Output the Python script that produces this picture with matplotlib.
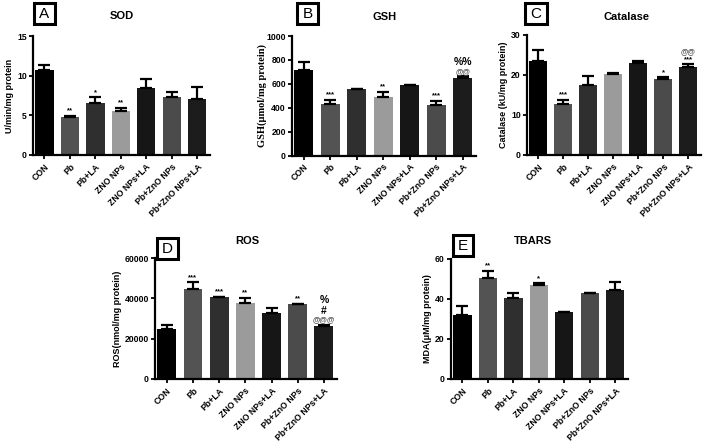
import matplotlib
matplotlib.use("Agg")
import matplotlib.pyplot as plt
from matplotlib.patches import Rectangle

W, H = 708, 443

groups = ["CON", "Pb", "Pb+LA", "ZNO NPs", "ZNO NPs+LA", "Pb+ZnO NPs", "Pb+ZnO NPs+LA"]
bar_colors = ["#000000", "#535353", "#2f2f2f", "#9b9b9b", "#161616", "#4b4b4b", "#1c1c1c"]

sod_mean = [10.7, 4.83, 6.5, 5.55, 8.5, 7.35, 7.0]
sod_err = [0.6, 0.13, 0.77, 0.42, 1.08, 0.59, 1.6]
sod_marks = [[], ["**"], ["*"], ["**"], [], [], []]

gsh_mean = [714, 428, 553, 486, 589, 419, 650]
gsh_err = [69, 36, 5, 47, 5, 39, 14]
gsh_marks = [[], ["***"], [], ["**"], [], ["***"], ["@@", "%%"]]

cat_mean = [23.6, 12.75, 17.5, 20.2, 23.1, 19.0, 21.9]
cat_err = [2.65, 1.0, 2.25, 0.4, 0.4, 0.4, 0.8]
cat_marks = [[], ["***"], [], [], [], ["*"], ["***", "@@"]]

ros_mean = [24700, 44500, 40500, 37800, 32500, 37000, 26300]
ros_err = [2000, 3500, 300, 2500, 2500, 300, 700]
ros_marks = [[], ["***"], ["***"], ["**"], [], ["**"], ["@@@", "#", "%"]]

mda_mean = [32.0, 50.7, 40.3, 47.0, 33.3, 42.8, 44.5]
mda_err = [4.7, 3.3, 2.9, 0.8, 0.4, 0.4, 4.2]
mda_marks = [[], ["**"], [], ["*"], [], [], []]

SANS = ["Liberation Sans", "DejaVu Sans"]
SERIF = ["Liberation Serif", "DejaVu Serif"]

fig = plt.figure(figsize=(W / 100, H / 100), dpi=100)


def rect(l, r, t, b):
    return [l / W, 1 - b / H, (r - l) / W, (b - t) / H]


def panel(box, mean, err, marks, ylim, yticks, ylabel, title, letter,
          letter_box, title_xy, ylabel_x, ylabel_font=SANS, ylabel_size=6.5):
    ax = fig.add_axes(rect(*box))
    x = list(range(len(groups)))
    ax.bar(x, mean, width=0.72, color=bar_colors, edgecolor="none", zorder=2)
    ax.errorbar(x, mean, yerr=[[0] * len(mean), err], fmt="none", ecolor="black",
                elinewidth=1.6, capsize=4, capthick=1.6, zorder=3)
    ax.set_xlim(-0.45, 6.5)
    ax.set_ylim(*ylim)
    ax.set_yticks(yticks)
    ax.set_yticklabels([str(t) for t in yticks], fontsize=6.2, fontweight="heavy",
                       family=SANS)
    ax.set_xticks(x)
    ax.set_xticklabels(groups, rotation=45, ha="right", rotation_mode="anchor",
                       fontsize=6.3, fontweight="heavy", family=SANS)
    for s in ["top", "right"]:
        ax.spines[s].set_visible(False)
    for s in ["left", "bottom"]:
        ax.spines[s].set_linewidth(1.6)
    ax.tick_params(axis="both", length=3, width=1.3, pad=1.5, colors="black")
    ax.tick_params(axis="x", pad=2)
    ax.patch.set_visible(False)
    # significance marks
    for i, ms in enumerate(marks):
        top = mean[i] + err[i]
        off = 1.0
        for m in ms:
            big = m in ("#", "%", "%%")
            fs = 7.5 if big else 5.5
            col = "#555555" if m.startswith("@") else "black"
            ax.annotate(m, (i, top), xytext=(0, off), textcoords="offset points",
                        ha="center", va="bottom", fontsize=fs, fontweight="bold",
                        color=col, family=SANS)
            off += 7.5 if big else 5.5
    # y label
    fig.text(ylabel_x / W, 1 - ((box[2] + box[3]) / 2) / H, ylabel, rotation=90,
             ha="center", va="center", fontsize=ylabel_size, fontweight="bold",
             family=ylabel_font)
    # title
    fig.text(title_xy[0] / W, 1 - title_xy[1] / H, title, ha="center", va="center",
             fontsize=8, fontweight="bold", family=SANS)
    # letter box
    l, t, r, b = letter_box
    fig.patches.append(Rectangle((l / W, 1 - b / H), (r - l) / W, (b - t) / H,
                                 transform=fig.transFigure, fill=False,
                                 edgecolor="black", linewidth=2.2))
    fig.text((l + r) / 2 / W, 1 - ((t + b) / 2 + 0.5) / H, letter, ha="center",
             va="center", fontsize=11, family=SANS)
    return ax


panel((33, 210, 36, 155), sod_mean, sod_err, sod_marks, (0, 15), [0, 5, 10, 15],
      "U/min/mg protein", "SOD", "A", (34, 3, 55, 24), (122, 16), 10)
panel((292, 476, 36, 155.5), gsh_mean, gsh_err, gsh_marks, (0, 1000),
      [0, 200, 400, 600, 800, 1000], "GSH(\u03bcmol/mg protein)", "GSH", "B",
      (297, 3, 318, 24), (385, 17), 262, ylabel_font=SERIF, ylabel_size=7.5)
panel((527, 701, 35, 155), cat_mean, cat_err, cat_marks, (0, 30), [0, 10, 20, 30],
      "Catalase (kU/mg protein)", "Catalase", "C", (525, 3, 547, 24), (626, 17), 503)
panel((155, 337, 258, 379), ros_mean, ros_err, ros_marks, (0, 60000),
      [0, 20000, 40000, 60000], "ROS(nmol/mg protein)", "ROS", "D",
      (157, 238, 178, 259), (247, 241), 117)
panel((451, 628, 259, 379), mda_mean, mda_err, mda_marks, (0, 60), [0, 20, 40, 60],
      "MDA(\u03bcM/mg protein)", "TBARS", "E", (453, 235, 473, 256), (533, 241), 427)

fig.savefig("out.png", dpi=100)
